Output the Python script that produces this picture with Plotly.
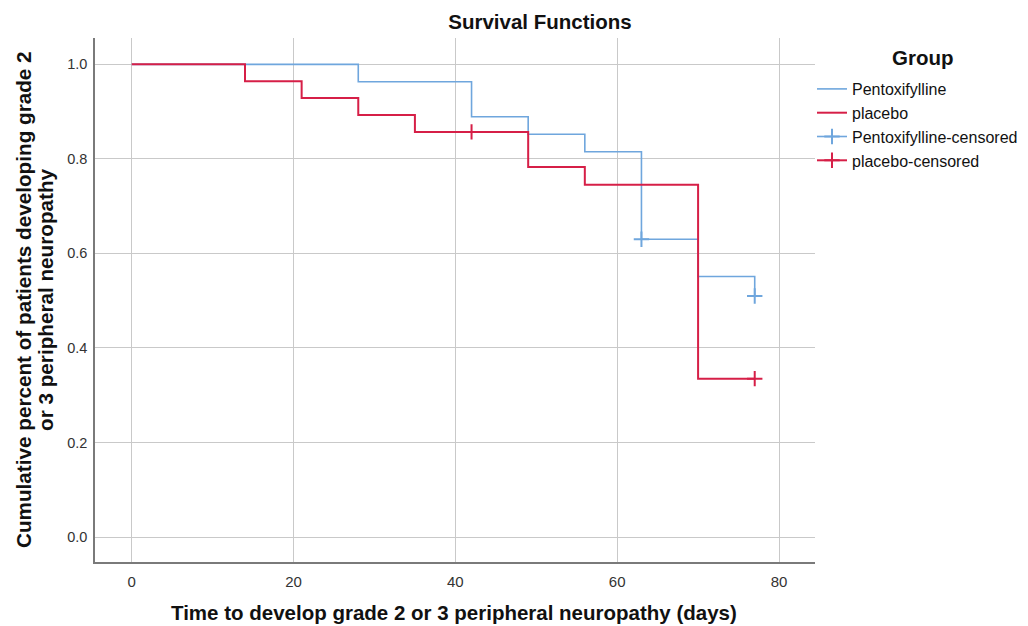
import plotly.graph_objects as go

# ---- data ----
pento_times = [0, 28, 42, 49, 56, 63, 70, 77]
pento_surv = [1.0, 0.963, 0.889, 0.852, 0.815, 0.630, 0.551, 0.510]
placebo_times = [0, 14, 21, 28, 35, 49, 56, 70, 77]
placebo_surv = [1.0, 0.964, 0.929, 0.893, 0.857, 0.783, 0.745, 0.335, 0.335]
pento_cens_times = [63, 77]
pento_cens_surv = [0.630, 0.510]
placebo_cens_times = [42, 77]
placebo_cens_surv = [0.857, 0.335]

x_ticks = [0, 20, 40, 60, 80]
y_ticks = [0.0, 0.2, 0.4, 0.6, 0.8, 1.0]

BLUE = "#6fa6dd"
BLUE_DARK = "#3d84d6"
RED = "#d61f47"
FONT = "Liberation Sans, Arial, sans-serif"

L, R, T, B = 95, 815, 38, 562
PW, PH = R - L, B - T


def px2x(px):
    return (px - L) / PW


def px2y(py):
    return (B - py) / PH


def gapped(xs, ys):
    gx, gy = [], []
    for i, (a, b) in enumerate(zip(xs, ys)):
        if i:
            gx.append(None)
            gy.append(None)
        gx.append(a)
        gy.append(b)
    return gx, gy


fig = go.Figure()
fig.add_trace(go.Scatter(x=pento_times, y=pento_surv, mode="lines", line_shape="hv",
                         line=dict(color=BLUE, width=1.6), name="Pentoxifylline",
                         legendgroup="a"))
fig.add_trace(go.Scatter(x=placebo_times, y=placebo_surv, mode="lines", line_shape="hv",
                         line=dict(color=RED, width=2), name="placebo",
                         legendgroup="b"))
px_, py_ = gapped(pento_cens_times, pento_cens_surv)
fig.add_trace(go.Scatter(x=px_, y=py_, mode="lines+markers", connectgaps=False,
                         line=dict(color=BLUE, width=1.6),
                         marker=dict(symbol="cross-thin-open", size=11,
                                     line=dict(color=BLUE_DARK, width=2)),
                         name="Pentoxifylline-censored", legendgroup="c"))
rx_, ry_ = gapped(placebo_cens_times, placebo_cens_surv)
fig.add_trace(go.Scatter(x=rx_, y=ry_, mode="lines+markers", connectgaps=False,
                         line=dict(color=RED, width=2),
                         marker=dict(symbol="cross-thin-open", size=11,
                                     line=dict(color=RED, width=2)),
                         name="placebo-censored", legendgroup="d"))

TF = dict(size=20.5, color="#111111", family=FONT)
fig.update_layout(
    width=1028, height=626,
    margin=dict(l=L, r=1028 - R, t=T, b=626 - B, autoexpand=False),
    paper_bgcolor="white", plot_bgcolor="white",
    font=dict(family=FONT, color="#333333", size=15),
    title=dict(text="<b>Survival Functions</b>", x=540 / 1028, xanchor="center",
               y=1 - 22 / 626, yanchor="middle", font=TF),
    showlegend=True,
    legend=dict(x=px2x(812), xanchor="left", y=px2y(72), yanchor="top",
                font=dict(size=16, color="#111111", family=FONT),
                tracegroupgap=0, bgcolor="rgba(0,0,0,0)"),
    xaxis=dict(range=[-4.54, 84.45], tickvals=x_ticks, ticktext=[str(v) for v in x_ticks],
               showgrid=True, gridcolor="#c9c9c9", gridwidth=1, zeroline=False,
               showline=True, linecolor="#7a7a7a", linewidth=1.5, ticks="",
               ticklabelstandoff=5, tickfont=dict(size=15, color="#333333")),
    yaxis=dict(range=[-0.0529, 1.0557], tickvals=y_ticks,
               ticktext=[f"{v:.1f}" for v in y_ticks],
               showgrid=True, gridcolor="#c9c9c9", gridwidth=1, zeroline=False,
               showline=True, linecolor="#7a7a7a", linewidth=1.5, ticks="",
               ticklabelstandoff=3, tickfont=dict(size=14.5, color="#333333")),
    annotations=[
        dict(text="<b>Group</b>", xref="paper", yref="paper",
             x=px2x(923), y=px2y(58), xanchor="center", yanchor="middle",
             showarrow=False, font=TF),
        dict(text="<b>Time to develop grade 2 or 3 peripheral neuropathy (days)</b>",
             xref="paper", yref="paper", x=px2x(454), y=px2y(612),
             xanchor="center", yanchor="middle", showarrow=False, font=TF),
        dict(text="<b>Cumulative percent of patients developing grade 2</b>",
             xref="paper", yref="paper", x=px2x(23), y=px2y(300),
             xanchor="center", yanchor="middle", textangle=-90, showarrow=False,
             font=dict(size=20.7, color="#111111", family=FONT)),
        dict(text="<b>or 3 peripheral neuropathy</b>",
             xref="paper", yref="paper", x=px2x(45), y=px2y(300),
             xanchor="center", yanchor="middle", textangle=-90, showarrow=False,
             font=dict(size=20.7, color="#111111", family=FONT)),
    ],
)

fig.write_html("out.html", config={"displayModeBar": False},
               post_script="document.body.style.margin='0';")
